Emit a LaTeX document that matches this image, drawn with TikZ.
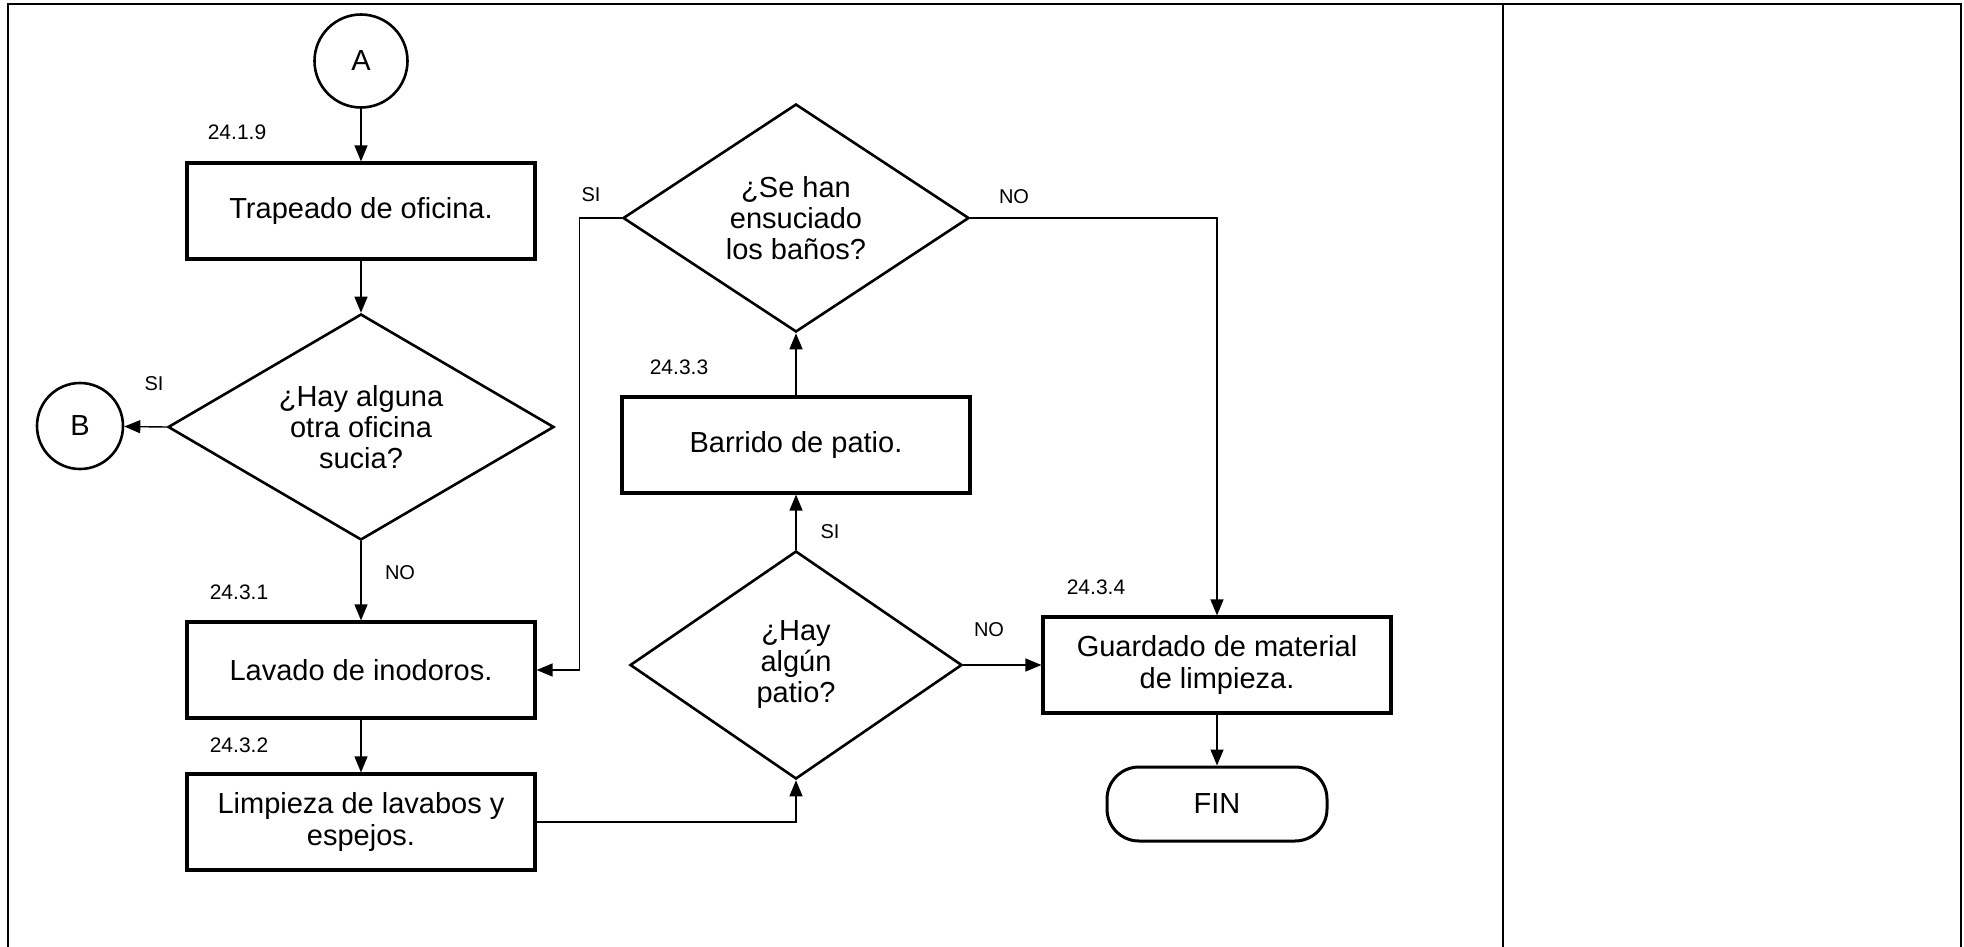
\documentclass[tikz,border=0pt]{standalone}
\usepackage{fontspec}
\setmainfont{Liberation Sans}
\usetikzlibrary{shapes.geometric, arrows.meta, positioning}

\begin{document}
\begin{tikzpicture}[
    x=0.5pt, y=-0.5pt,
    process/.style={draw, line width=1.6pt, minimum width=174pt, minimum height=48pt, inner sep=0pt, align=center, font=\fontsize{14.5}{16.3}\selectfont},
    decision/.style={draw, diamond, shape aspect=1.7, line width=1.3pt, inner sep=0pt, align=center, font=\fontsize{14.5}{15.5}\selectfont},
    connector/.style={draw, circle, line width=1.3pt, inner sep=0pt, font=\fontsize{14.5}{15.5}\selectfont},
    endbox/.style={draw, line width=1.5pt, rounded corners=16pt, minimum width=110pt, minimum height=37pt, font=\fontsize{14.5}{15.5}\selectfont},
    flowline/.style={-{Triangle[length=8pt,width=6.5pt]}, line width=0.7pt},
    frameline/.style={line width=1.1pt},
    stepnum/.style={font=\fontsize{10.5}{12}\selectfont},
    answer/.style={font=\fontsize{10}{12}\selectfont}
]
    \useasboundingbox (0,0) rectangle (1964,947);

    % Frame
    \draw[frameline] (8,947) -- (8,4) -- (1961,4) -- (1961,947);
    \draw[frameline] (1503,4) -- (1503,947);

    % Connectors and process steps
    \node[connector, minimum size=46.5pt] (a) at (361,61) {A};
    \node[process] (trap) at (361,211) {Trapeado de oficina.};
    \node[decision, minimum width=193pt, minimum height=113pt] (q1) at (361,427) {¿Hay alguna\\otra oficina\\sucia?};
    \node[connector, minimum size=43pt] (b) at (80,426) {B};
    \node[process] (lav) at (361,670) {Lavado de inodoros.};
    \node[process] (limp) at (361,822) {Limpieza de lavabos y\\espejos.};
    \node[decision, minimum width=166pt, minimum height=114pt] (q3) at (796,665) {¿Hay\\algún\\patio?};
    \node[process] (barr) at (796,445) {Barrido de patio.};
    \node[decision, minimum width=173pt, minimum height=114pt] (q2) at (796,218) {¿Se han\\ensuciado\\los baños?};
    \node[process] (guard) at (1217,665) {Guardado de material\\de limpieza.};
    \node[endbox] (fin) at (1217,804) {FIN};

    % Step numbers
    \node[stepnum] (n1) at (237,132) {24.1.9};
    \node[stepnum] (n2) at (239,592) {24.3.1};
    \node[stepnum] (n3) at (239,745) {24.3.2};
    \node[stepnum] (n4) at (679,367) {24.3.3};
    \node[stepnum] (n5) at (1096,587) {24.3.4};

    % Flow
    \draw[flowline] (a) -- (trap);
    \draw[flowline] (trap) -- (q1);
    \draw[flowline] (q1.west) -- (b);
    \draw[flowline] (q1.south) -- (lav);
    \draw[flowline] (lav) -- (limp);
    \draw[flowline] (limp.east) -| (q3.south);
    \draw[flowline] (q3.north) -- (barr.south);
    \draw[flowline] (barr) -- (q2);
    \draw[flowline] (q2.west) -- ++(-42,0) |- (lav.east);
    \draw[flowline] (q2.east) -| (guard.north);
    \draw[flowline] (q3.east) -- (guard.west);
    \draw[flowline] (guard) -- (fin);

    % Answers
    \node[answer] (s1) at (154,384) {SI};
    \node[answer] (s2) at (400,573) {NO};
    \node[answer] (s3) at (591,195) {SI};
    \node[answer] (s4) at (1014,197) {NO};
    \node[answer] (s5) at (830,532) {SI};
    \node[answer] (s6) at (989,630) {NO};
\end{tikzpicture}
\end{document}
